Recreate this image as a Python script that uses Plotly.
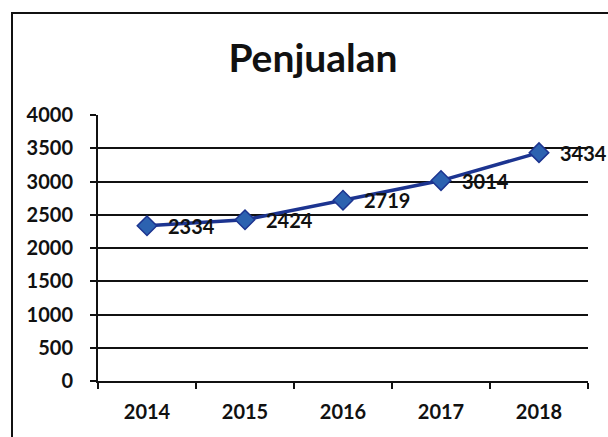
import plotly.graph_objects as go

years = ["2014", "2015", "2016", "2017", "2018"]
sales = [2334, 2424, 2719, 3014, 3434]
y_ticks = [0, 500, 1000, 1500, 2000, 2500, 3000, 3500, 4000]

L, R, T, B = 98, 20, 115, 56
W, H = 608, 437
pw, ph = W - L - R, H - T - B
FONT = "Lato"

fig = go.Figure()
fig.add_trace(go.Scatter(
    x=years, y=sales, mode="lines+markers",
    line=dict(color="#1c3490", width=3.5),
    marker=dict(symbol="diamond", size=15, color="#2c62b0", line=dict(color="#1c3490", width=1.5)),
    cliponaxis=False, showlegend=False,
))

for i, v in enumerate(sales):
    fig.add_annotation(x=i, y=v, xref="x", yref="y", text=str(v), showarrow=False,
                       xanchor="left", yanchor="middle", xshift=19, yshift=0,
                       font=dict(family=FONT, size=20, color="#111111", weight="bold"))

fig.update_layout(
    width=W, height=H, margin=dict(l=L, r=R, t=T, b=B),
    paper_bgcolor="white", plot_bgcolor="white",
    title=dict(text="<b>Penjualan</b>", x=(313 - L) / pw, xref="paper", xanchor="center",
               y=1 - 58 / H, yanchor="middle",
               font=dict(family=FONT, size=39, color="#111111")),
    xaxis=dict(type="category", showgrid=False, showline=True, linecolor="#111111", linewidth=2,
               ticks="outside", tickson="boundaries", ticklen=6, tickcolor="#111111", tickwidth=2,
               ticklabelstandoff=12,
               tickfont=dict(family=FONT, size=20, color="#111111", weight="bold"),
               range=[-0.5, 4.5]),
    yaxis=dict(range=[0, 4000], tickvals=y_ticks, showgrid=True, gridcolor="#111111", gridwidth=2,
               showline=True, linecolor="#111111", linewidth=2, zeroline=False,
               ticks="outside", ticklen=6, tickcolor="#111111", tickwidth=2,
               ticklabelstandoff=13,
               tickfont=dict(family=FONT, size=20, color="#111111", weight="bold")),
    shapes=[dict(type="rect", xref="paper", yref="paper",
                 x0=(12 - L) / pw, x1=(640 - L) / pw,
                 y0=(H - B - 470) / ph, y1=(H - B - 13) / ph,
                 line=dict(color="#111111", width=2), layer="below")],
)

fig.write_html("out.html")
